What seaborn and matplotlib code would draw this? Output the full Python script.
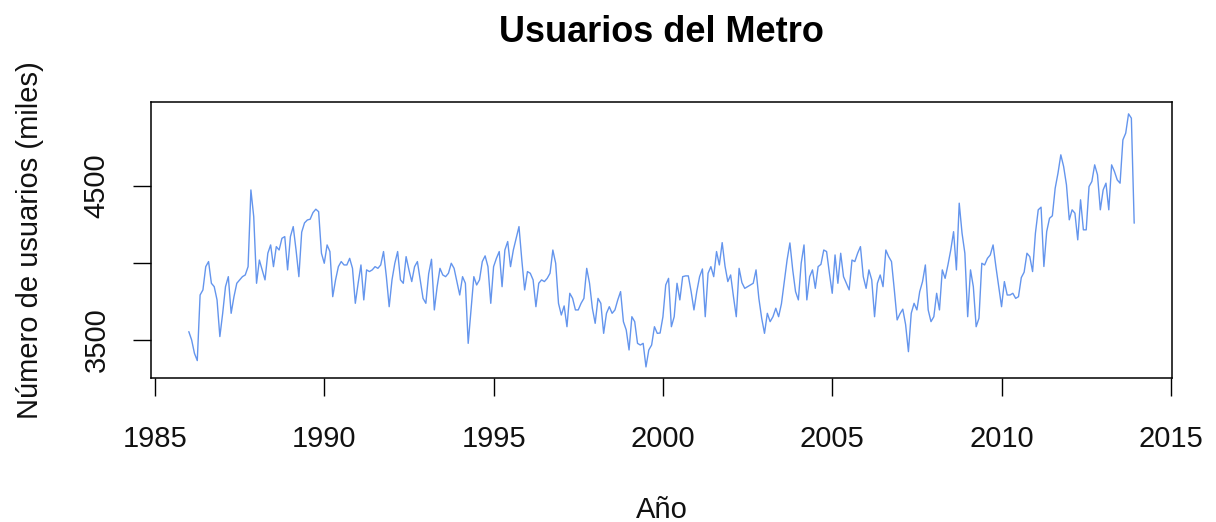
import numpy as np
import pandas as pd
import matplotlib
matplotlib.use("Agg")
import matplotlib.pyplot as plt
import seaborn as sns

# Usuarios mensuales del Metro (miles), enero 1986 - diciembre 2013
anio_inicio = 1986

usuarios_1986_1992 = [
    3554, 3500, 3413, 3366, 3792, 3825, 3976, 4009, 3868, 3846, 3760, 3522,
    3673, 3846, 3911, 3673, 3781, 3868, 3890, 3911, 3922, 3976, 4474, 4301,
    3868, 4019, 3955, 3890, 4063, 4117, 3976, 4106, 4084, 4160, 4171, 3955,
    4171, 4236, 4084, 3911, 4200, 4260, 4279, 4284, 4327, 4349, 4333, 4063,
    3998, 4117, 4074, 3781, 3890, 3976, 4009, 3987, 3987, 4030, 3965, 3738,
    3868, 3987, 3760, 3955, 3944, 3955, 3976, 3965, 3987, 4074, 3911, 3716,
    3890, 3998, 4074, 3890, 3868, 4041, 3955, 3879, 3976, 4009, 3890, 3770,
]
usuarios_1993_1999 = [
    3738, 3930, 4024, 3695, 3846, 3965, 3922, 3911, 3933, 3998, 3965, 3879,
    3792, 3911, 3868, 3478, 3695, 3911, 3857, 3890, 4009, 4046, 3976, 3738,
    3976, 4030, 4074, 3846, 4084, 4139, 3976, 4084, 4160, 4236, 4019, 3825,
    3944, 3933, 3890, 3716, 3868, 3890, 3879, 3900, 3933, 4084, 3998, 3738,
    3662, 3721, 3586, 3803, 3770, 3695, 3695, 3738, 3770, 3965, 3868, 3706,
    3608, 3770, 3738, 3543, 3673, 3716, 3673, 3695, 3760, 3814, 3619, 3565,
    3435, 3651, 3619, 3478, 3467, 3478, 3325, 3435, 3467, 3586, 3543, 3545,
]
usuarios_2000_2006 = [
    3650, 3857, 3900, 3586, 3651, 3868, 3760, 3911, 3916, 3916, 3814, 3695,
    3814, 3911, 3961, 3651, 3933, 3976, 3911, 4074, 3987, 4132, 3980, 3879,
    3922, 3781, 3651, 3965, 3872, 3835, 3846, 3857, 3868, 3955, 3770, 3641,
    3543, 3673, 3619, 3651, 3706, 3651, 3735, 3879, 4019, 4130, 3955, 3814,
    3760, 3998, 4117, 3760, 3911, 3955, 3835, 3976, 3991, 4084, 4074, 3933,
    3803, 4052, 3868, 4063, 3911, 3868, 3825, 4019, 4009, 4063, 4106, 3911,
    3835, 3955, 3890, 3651, 3868, 3922, 3846, 4084, 4041, 4009, 3825, 3630,
]
usuarios_2007_2013 = [
    3670, 3700, 3600, 3424, 3673, 3738, 3695, 3814, 3879, 3987, 3695, 3619,
    3651, 3803, 3695, 3955, 3900, 3987, 4084, 4203, 3955, 4388, 4193, 4063,
    3651, 3955, 3846, 3586, 3641, 3998, 3987, 4030, 4052, 4117, 3976, 3846,
    3716, 3879, 3792, 3792, 3803, 3770, 3781, 3905, 3940, 4063, 4041, 3944,
    4193, 4345, 4362, 3977, 4204, 4290, 4306, 4485, 4583, 4702, 4626, 4507,
    4280, 4345, 4323, 4150, 4410, 4215, 4215, 4496, 4529, 4637, 4572, 4345,
    4474, 4518, 4345, 4637, 4594, 4539, 4518, 4799, 4843, 4968, 4940, 4258,
]

ticks_anio = [1985, 1990, 1995, 2000, 2005, 2010, 2015]
ticks_usuarios = [3500, 4000, 4500]
etiquetas_usuarios = ["3500", "", "4500"]

usuarios = np.concatenate([usuarios_1986_1992, usuarios_1993_1999,
                           usuarios_2000_2006, usuarios_2007_2013])
anio = anio_inicio + np.arange(len(usuarios)) / 12
df = pd.DataFrame({"Año": anio, "Usuarios": usuarios})

sns.set_theme(style="white")
plt.rcParams["font.family"] = ["Liberation Sans", "DejaVu Sans"]

W, H = 1216, 522
fig = plt.figure(figsize=(W / 100, H / 100), dpi=100)
left, right, top, bottom = 151, 1172, 102, 378
ax = fig.add_axes([left / W, 1 - bottom / H, (right - left) / W, (bottom - top) / H])

sns.lineplot(data=df, x="Año", y="Usuarios", color="#6495ED",
             linewidth=1.0, ax=ax)

# R-style axis limits (4% padding around the data)
rx = anio.max() - anio.min()
ax.set_xlim(anio.min() - 0.04 * rx, anio.max() + 0.04 * rx)
ax.set_ylim(3253, 5045)

ax.set_xticks(ticks_anio)
ax.set_xticklabels([str(t) for t in ticks_anio])
ax.set_yticks(ticks_usuarios)
ax.set_yticklabels(etiquetas_usuarios, rotation=90, va="center")

ax.tick_params(axis="both", direction="out", length=13, width=1.0,
               color="black", labelcolor="#111111", labelsize=21,
               bottom=True, left=True, top=False, right=False)
ax.tick_params(axis="x", pad=21)
ax.tick_params(axis="y", pad=16)

for s in ax.spines.values():
    s.set_visible(True)
    s.set_color("black")
    s.set_linewidth(1.1)

ax.set_title("Usuarios del Metro", fontsize=26, fontweight="bold",
             color="black", pad=43)
ax.set_xlabel("Año", fontsize=21, color="#111111")
ax.xaxis.set_label_coords(0.5, (bottom - 518) / (bottom - top))
ax.xaxis.label.set_va("baseline")
ax.set_ylabel("Número de usuarios (miles)", fontsize=21, color="#111111")
ax.yaxis.set_label_coords((44 - left) / (right - left), 0.5)

fig.savefig("out.png", dpi=100)
